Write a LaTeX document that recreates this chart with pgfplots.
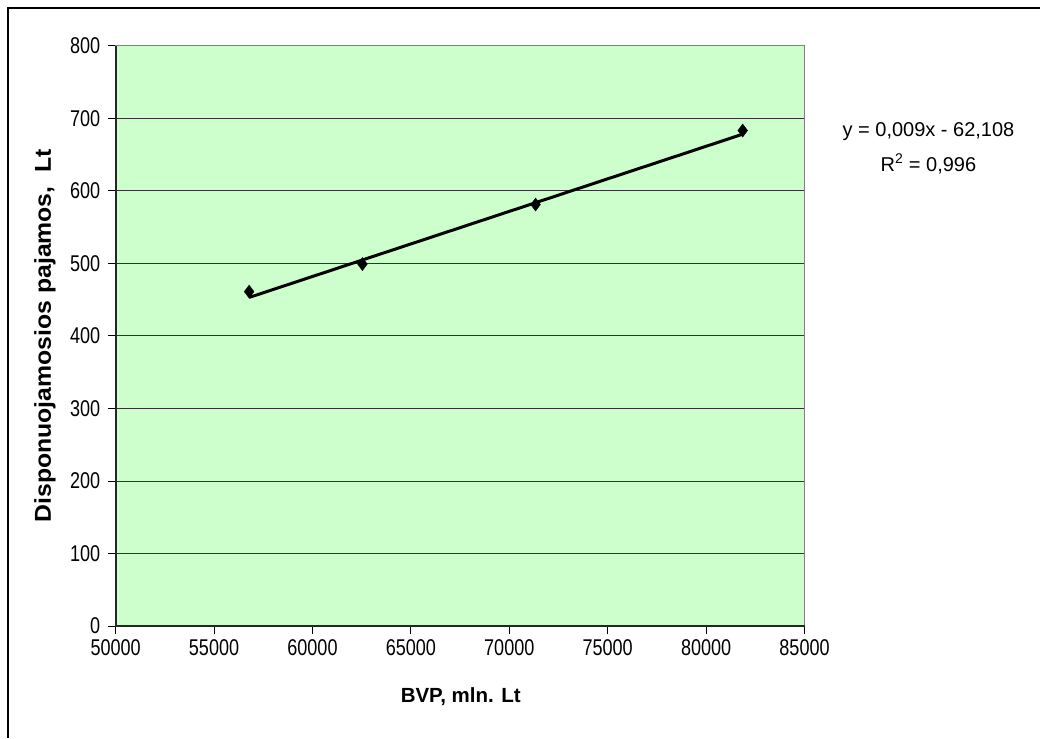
\documentclass[border=0pt]{standalone}
\usepackage{pgfplots}
\pgfplotsset{compat=1.18}
\usepackage{fontspec}
\setmainfont{Liberation Sans}
\definecolor{plotbg}{HTML}{CCFFCC}
\begin{document}
\begin{tikzpicture}[x=1pt,y=1pt]
\path (0,0) rectangle (1041,738);
\draw[black, line width=1.2pt] (8,0) -- (8,730) -- (1041,730);
\begin{axis}[
  at={(115.7pt,111.5pt)}, anchor=south west,
  scale only axis, width=689.3pt, height=580.8pt,
  xmin=50000, xmax=85000, ymin=0, ymax=800,
  xtick={50000,55000,...,85000}, ytick={0,100,...,800},
  scaled x ticks=false,
  /pgf/number format/assume math mode=true,
  /pgf/number format/set thousands separator={},
  xticklabel={\scalebox{0.95}[1.2]{\pgfmathprintnumber{\tick}}},
  yticklabel={\scalebox{0.95}[1.2]{\pgfmathprintnumber{\tick}}},
  tick label style={font=\fontsize{19}{22}\selectfont},
  tick align=outside, major tick length=8pt,
  tick style={black, line width=1pt},
  xtick pos=bottom, ytick pos=left,
  ymajorgrids, grid style={black!80, line width=1pt},
  axis background/.style={fill=plotbg},
  axis line style={black!50, line width=1.5pt},
  xticklabel style={yshift=-2pt},
  yticklabel style={xshift=-4pt},
  clip=false,
]
\draw[black!85, line width=1.8pt] (rel axis cs:0,1) -- (rel axis cs:0,0) -- (rel axis cs:1,0);
\addplot[black, line width=3pt] coordinates {(56782,453) (81858,678)};
\addplot[only marks, mark=diamond*, mark size=6.5pt, black] coordinates {
(56782,461) (62538,499) (71335,581) (81858,683)};
\end{axis}
\node at (461,41) {\fontsize{20.5}{24}\selectfont\bfseries BVP, mln. Lt};
\node[rotate=90] at (45,402) {\scalebox{1.24}[1.15]{\fontsize{20}{24}\selectfont\bfseries Disponuojamosios pajamos,\ \ Lt}};
\node[align=center, font=\fontsize{20}{35}\selectfont] at (929,590) {y = 0,009x - 62,108\\R\textsuperscript{2} = 0,996};
\end{tikzpicture}
\end{document}
